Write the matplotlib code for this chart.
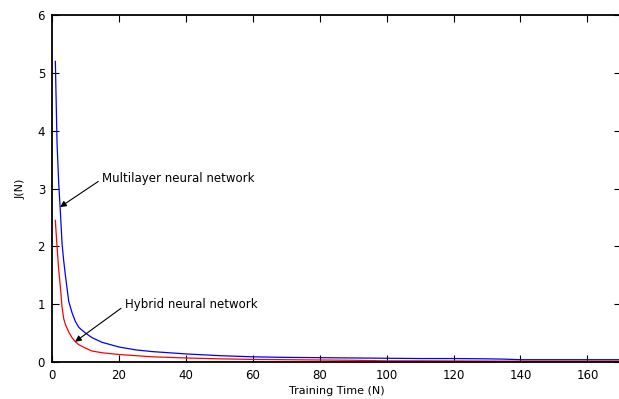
import matplotlib.pyplot as plt

# training curves
n = [1, 1.5, 2, 2.5, 3, 3.5, 4, 5, 6, 7, 8, 10, 12, 15, 20, 25, 30, 40, 50, 60,
     70, 80, 90, 100, 110, 120, 130, 135, 140, 150, 160, 170]
j_multi = [5.2, 3.8, 3.1, 2.6, 2.05, 1.75, 1.5, 1.05, 0.85, 0.7, 0.6, 0.5, 0.42, 0.34,
           0.26, 0.21, 0.18, 0.14, 0.11, 0.09, 0.08, 0.075, 0.07, 0.065, 0.06, 0.06,
           0.055, 0.05, 0.04, 0.04, 0.04, 0.04]
j_hybrid = [2.45, 2.0, 1.6, 1.3, 0.95, 0.75, 0.65, 0.52, 0.42, 0.35, 0.3, 0.24, 0.19, 0.16,
            0.13, 0.11, 0.09, 0.07, 0.055, 0.045, 0.04, 0.035, 0.03, 0.02, 0.02, 0.018,
            0.016, 0.015, 0.015, 0.015, 0.015, 0.015]

xticks = [0, 20, 40, 60, 80, 100, 120, 140, 160]
yticks = [0, 1, 2, 3, 4, 5, 6]

plt.rcParams['font.family'] = ['DejaVu Sans']

fig = plt.figure(figsize=(6.19, 3.99), dpi=100)
ax = fig.add_axes([0.084, 0.0927, 0.919, 0.8693])

ax.plot(n, j_multi, color='blue', linewidth=0.9)
ax.plot(n, j_hybrid, color='red', linewidth=0.9)

arrow = dict(arrowstyle='-|>', color='black', lw=0.8, mutation_scale=9,
             shrinkA=1, shrinkB=0, relpos=(0, 0.45))
ax.annotate('Multilayer neural network', xy=(2.4, 2.68), xytext=(15.0, 3.18),
            fontsize=8.5, va='center', ha='left', arrowprops=arrow)
ax.annotate('Hybrid neural network', xy=(6.9, 0.35), xytext=(21.8, 0.99),
            fontsize=8.5, va='center', ha='left', arrowprops=arrow)

ax.set_xlim(0, 170)
ax.set_ylim(0, 6)
ax.set_xticks(xticks)
ax.set_yticks(yticks)
ax.tick_params(direction='in', top=True, right=True, labelsize=8.5, length=5, width=0.8,
               pad=5)
for s in ax.spines.values():
    s.set_linewidth(1.3)

ax.set_xlabel('Training Time (N)', fontsize=8, labelpad=3)
ax.set_ylabel('J(N)', fontsize=8, labelpad=9)

fig.savefig('out.png', dpi=100)
